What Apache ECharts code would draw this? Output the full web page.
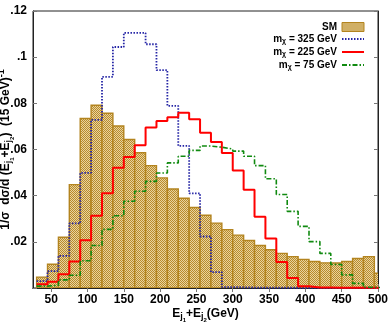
<!DOCTYPE html>
<html>
<head>
<meta charset="utf-8">
<script src="https://cdn.jsdelivr.net/npm/echarts@6/dist/echarts.min.js"></script>
<style>html,body{margin:0;padding:0;background:#fff}#c{width:392px;height:327px}</style>
</head>
<body>
<div id="c"></div>
<script>
// ---- data ----
const binLeft = [30,45,60,75,90,105,120,135,150,165,180,195,210,225,240,255,270,285,300,315,330,345,360,375,390,405,420,435,450,465,480,495];
const binWidth = 15;
const smValues = [0.0047,0.0103,0.0220,0.0448,0.0734,0.0792,0.0757,0.0702,0.0643,0.0586,0.0530,0.0477,0.0429,0.0389,0.0349,0.0315,0.0281,0.0253,0.0229,0.0206,0.0184,0.0166,0.0150,0.0136,0.0124,0.0115,0.0109,0.0108,0.0115,0.0128,0.0136,0.0064];
const m325Values = [0.0030,0.0073,0.0139,0.0280,0.0499,0.0728,0.0915,0.1044,0.1105,0.1105,0.1056,0.0944,0.0789,0.0616,0.0410,0.0223,0.0069,0.0004,0.0003,0.0002,0.0002,0.0002,0.0001,0.0001,0.0001,0,0,0,0,0,0,0];
const m225Values = [0.0016,0.0027,0.0060,0.0115,0.0207,0.0313,0.0410,0.0521,0.0567,0.0618,0.0695,0.0724,0.0740,0.0759,0.0731,0.0673,0.0633,0.0585,0.0509,0.0426,0.0309,0.0214,0.0113,0.0043,0.0008,0.0002,0.0002,0.0001,0.0001,0.0001,0.0001,0];
const m75Values = [0.0008,0.0012,0.0035,0.0055,0.0118,0.0184,0.0254,0.0313,0.0376,0.0419,0.0462,0.0498,0.0542,0.0571,0.0596,0.0615,0.0610,0.0602,0.0593,0.0571,0.0530,0.0473,0.0405,0.0332,0.0267,0.0201,0.0150,0.0102,0.0057,0.0020,0.0003,0.0001];
const xTicks = [50,100,150,200,250,300,350,400,450,500];
const seriesNames = ['SM','325','225','75'];

// ---- styling helpers ----
const FONT = '"Liberation Sans", Arial, Helvetica, sans-serif';
function makePattern(){
  const c = document.createElement('canvas'); c.width = 2; c.height = 2;
  const g = c.getContext('2d');
  g.fillStyle = '#e8d49e'; g.fillRect(0,0,2,2);
  g.fillStyle = '#b98a2c'; g.fillRect(0,0,1,1); g.fillRect(1,1,1,1);
  return c;
}
const pat = {image: makePattern(), repeat: 'repeat'};
const barBorder = '#b3841f';
const hidden = {opacity: 0, color: 'rgba(0,0,0,0)', borderColor: 'rgba(0,0,0,0)', borderWidth: 0};

function stepData(vals){
  const d = binLeft.map((x,i)=>[x, vals[i]]);
  d.push([binLeft[binLeft.length-1] + binWidth, vals[vals.length-1]]);
  return d;
}
const barData = binLeft.map((x,i)=>[x, x + binWidth, smValues[i]]);

const chart = echarts.init(document.getElementById('c'), null, {renderer:'canvas'});
chart.setOption({
  animation: false,
  grid: {left: 33, right: 14, top: 11, bottom: 39, containLabel: false, outerBoundsMode: 'none',
         show: true, borderColor: '#222', borderWidth: 1},
  legend: {
    orient: 'vertical', align: 'right', right: 22, top: 17, itemGap: 2,
    itemWidth: 22, itemHeight: 9,
    data: [
      {name: 'SM', icon: 'rect', itemStyle: {color: pat, borderColor: barBorder, borderWidth: 1}},
      {name: '325', itemStyle: hidden}, {name: '225', itemStyle: hidden}, {name: '75', itemStyle: hidden}
    ],
    formatter: function(n){ return n === 'SM' ? '{t|SM}' : '{t|m}{s|χ}{t| = ' + n + ' GeV}'; },
    textStyle: {
      fontFamily: FONT, fontWeight: 'bold', fontSize: 10, color: '#000',
      rich: {
        t: {fontFamily: FONT, fontWeight: 'bold', fontSize: 10, color: '#000'},
        s: {fontFamily: FONT, fontWeight: 'bold', fontSize: 7, color: '#000', padding: [5,0,0,0]}
      }
    }
  },
  xAxis: [
    {type: 'value', min: 25, max: 500, position: 'bottom',
     axisLine: {show: true, lineStyle: {color: '#222'}},
     axisTick: {show: true, inside: true, length: 4, customValues: xTicks, lineStyle: {color: '#777'}},
     axisLabel: {customValues: xTicks, fontFamily: FONT, fontWeight: 'bold', fontSize: 12, color: '#000', margin: 6},
     splitLine: {show: false},
     name: '{m|E}{s|j}{ss|1}{m|+E}{s|j}{ss|2}{m|(GeV)}', nameLocation: 'middle', nameGap: 17, nameMoveOverlap: false,
     nameTextStyle: {rich: {
       m: {fontFamily: FONT, fontWeight: 'bold', fontSize: 12, color: '#000'},
       s: {fontFamily: FONT, fontWeight: 'bold', fontSize: 9, color: '#000', padding: [6,0,0,0]},
       ss: {fontFamily: FONT, fontWeight: 'bold', fontSize: 6, color: '#000', padding: [12,0,0,0]}
     }}},
    {type: 'value', min: 25, max: 500, position: 'top',
     axisLine: {show: true, lineStyle: {color: '#222'}},
     axisTick: {show: true, inside: true, length: 4, customValues: xTicks, lineStyle: {color: '#777'}},
     axisLabel: {show: false}, splitLine: {show: false}}
  ],
  yAxis: [
    {type: 'value', min: 0, max: 0.12, interval: 0.02, position: 'left',
     axisLine: {show: true, lineStyle: {color: '#222'}},
     axisTick: {show: true, inside: true, length: 4, lineStyle: {color: '#777'}},
     axisLabel: {fontFamily: FONT, fontWeight: 'bold', fontSize: 12, color: '#000', margin: 6,
       formatter: function(v){ if (v === 0) return ''; return (+v.toFixed(2)).toString().replace(/^0/, ''); }},
     splitLine: {show: false},
     name: '{m|1/σ  dσ/d (E}{s|j}{ss|1}{m|+E}{s|j}{ss|2}{m|)  (15 GeV)}{sup|-1}',
     nameLocation: 'middle', nameRotate: 90, nameGap: 18, nameMoveOverlap: false,
     nameTextStyle: {rich: {
       m: {fontFamily: FONT, fontWeight: 'bold', fontSize: 12, color: '#000'},
       s: {fontFamily: FONT, fontWeight: 'bold', fontSize: 9, color: '#000', padding: [6,0,0,0]},
       ss: {fontFamily: FONT, fontWeight: 'bold', fontSize: 6, color: '#000', padding: [12,0,0,0]},
       sup: {fontFamily: FONT, fontWeight: 'bold', fontSize: 9, color: '#000', padding: [0,0,8,0]}
     }}},
    {type: 'value', min: 0, max: 0.12, interval: 0.02, position: 'right',
     axisLine: {show: true, lineStyle: {color: '#222'}},
     axisTick: {show: true, inside: true, length: 4, lineStyle: {color: '#777'}},
     axisLabel: {show: false}, splitLine: {show: false}}
  ],
  series: [
    {name: 'SM', type: 'custom', clip: true, xAxisIndex: 0, yAxisIndex: 0,
     encode: {x: [0,1], y: 2},
     itemStyle: {color: pat, borderColor: barBorder},
     data: barData,
     renderItem: function(params, api){
       const p0 = api.coord([api.value(0), api.value(2)]);
       const p1 = api.coord([api.value(1), 0]);
       return {type: 'rect', shape: {x: p0[0], y: p0[1], width: p1[0]-p0[0], height: p1[1]-p0[1]},
               style: {fill: pat, stroke: barBorder, lineWidth: 1.4}};
     }},
    {name: '325', type: 'line', step: 'end', symbol: 'none', data: stepData(m325Values),
     itemStyle: {color: '#2626a6'},
     lineStyle: {color: '#2626a6', width: 1.8, type: [1.5, 1.5]}},
    {name: '225', type: 'line', step: 'end', symbol: 'none', data: stepData(m225Values),
     itemStyle: {color: '#ff0000'},
     lineStyle: {color: '#ff0000', width: 2}},
    {name: '75', type: 'line', step: 'end', symbol: 'none', data: stepData(m75Values),
     itemStyle: {color: '#108a10'},
     lineStyle: {color: '#108a10', width: 1.6, type: [5, 2, 1.5, 2]}}
  ]
});
</script>
</body>
</html>
